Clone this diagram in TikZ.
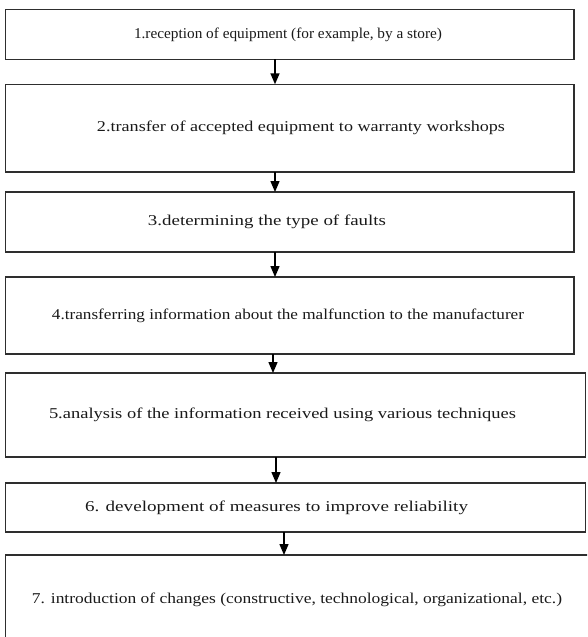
\documentclass[tikz,border=0pt]{standalone}
\usepackage{fontspec}
\usepackage{graphicx}
\setmainfont{Liberation Serif}
\usetikzlibrary{arrows.meta}
\tikzset{
  box/.style={draw=black!82, line width=1.5pt, rectangle, inner sep=0pt, outer sep=0pt, anchor=north west},
  lbl/.style={font=\fontsize{15}{18}\selectfont, text=black!90, inner sep=0pt},
  arr/.style={draw=black, line width=1.4pt, -{Triangle[width=9pt,length=11pt]}}
}
\newcommand{\wtext}[2]{\resizebox{#1}{\height}{#2}}
\begin{document}
\begin{tikzpicture}
\useasboundingbox (0,0) rectangle (587pt,-637pt);
\clip (0,0) rectangle (587pt,-637pt);
% boxes
\node[box, minimum width=568.5pt, minimum height=49.6pt] (b1) at (5.5pt,-9.7pt) {};
\node[box, minimum width=568.5pt, minimum height=87.7pt] (b2) at (5.5pt,-84.3pt) {};
\node[box, minimum width=568.5pt, minimum height=60pt] (b3) at (5.5pt,-192pt) {};
\node[box, minimum width=568.5pt, minimum height=77pt] (b4) at (5.5pt,-277pt) {};
\node[box, minimum width=580.2pt, minimum height=84pt] (b5) at (5.5pt,-373pt) {};
\node[box, minimum width=580.2pt, minimum height=49pt] (b6) at (5.5pt,-483pt) {};
\node[box, minimum width=600pt, minimum height=100pt] (b7) at (5.5pt,-555pt) {};
% texts
\node[lbl] (t1) at (288pt,0 |- b1.center) {\wtext{308pt}{1.reception of equipment (for example, by a store)}};
\node[lbl] (t2) at (301pt,0 |- b2.center) {\wtext{408pt}{2.transfer of accepted equipment to warranty workshops}};
\node[lbl] (t3) at (267pt,0 |- b3.center) {\wtext{238pt}{3.determining the type of faults}};
\node[lbl] (t4) at (288pt,0 |- b4.center) {\wtext{472pt}{4.transferring information about the malfunction to the manufacturer}};
\node[lbl] (t5) at (282.5pt,0 |- b5.center) {\wtext{467pt}{5.analysis of the information received using various techniques}};
\node[lbl] (t6) at (276.5pt,0 |- b6.center) {\wtext{383pt}{6. development of measures to improve reliability}};
\node[lbl] (t7) at (297pt,-600pt) {\wtext{530pt}{7. introduction of changes (constructive, technological, organizational, etc.)}};
% arrow columns
\coordinate (a1) at (275pt,0);
\coordinate (a2) at (275pt,0);
\coordinate (a3) at (275pt,0);
\coordinate (a4) at (273pt,0);
\coordinate (a5) at (276pt,0);
\coordinate (a6) at (284pt,0);
\draw[arr] (b1.south -| a1) -- (b2.north -| a1);
\draw[arr] (b2.south -| a2) -- (b3.north -| a2);
\draw[arr] (b3.south -| a3) -- (b4.north -| a3);
\draw[arr] (b4.south -| a4) -- (b5.north -| a4);
\draw[arr] (b5.south -| a5) -- (b6.north -| a5);
\draw[arr] (b6.south -| a6) -- (b7.north -| a6);
\end{tikzpicture}
\end{document}
